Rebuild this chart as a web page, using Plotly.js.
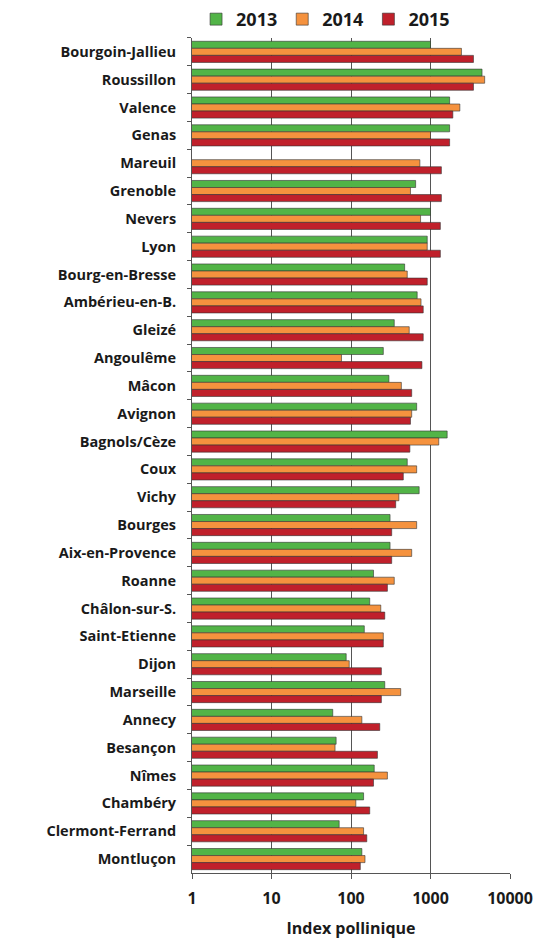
<!DOCTYPE html>
<html>
<head>
<meta charset="utf-8">
<script src="https://cdn.plot.ly/plotly-3.0.1.min.js"></script>
<style>html,body{margin:0;padding:0;background:#fff;}#chart{width:541px;height:940px;}</style>
</head>
<body>
<div id="chart"></div>
<script>
const cities = ["Bourgoin-Jallieu","Roussillon","Valence","Genas","Mareuil","Grenoble","Nevers","Lyon","Bourg-en-Bresse","Ambérieu-en-B.","Gleizé","Angoulême","Mâcon","Avignon","Bagnols/Cèze","Coux","Vichy","Bourges","Aix-en-Provence","Roanne","Châlon-sur-S.","Saint-Etienne","Dijon","Marseille","Annecy","Besançon","Nîmes","Chambéry","Clermont-Ferrand","Montluçon"];
const v2013 = [1000,4450,1740,1740,null,650,1000,910,473,680,350,255,300,670,1620,510,720,310,310,192,172,147,87,266,59,65,196,144,71,137];
const v2014 = [2450,4800,2340,1000,735,560,750,910,510,760,540,76,430,580,1270,670,400,670,580,350,237,255,95,422,137,63,287,115,144,150];
const v2015 = [3470,3470,1910,1740,1370,1370,1330,1330,910,810,810,780,580,560,550,455,365,325,325,287,266,255,241,241,230,215,192,172,158,131];
const years = ["2013","2014","2015"];
const colors = ["#52b447","#f5923e","#c0202b"];
const series = [v2013, v2014, v2015];

const traces = series.map((vals, i) => ({
  type: "bar",
  orientation: "h",
  name: years[i],
  y: cities,
  x: vals,
  marker: {color: colors[i], line: {color: "#333333", width: 0.6}},
  hoverinfo: "x+y"
}));

const layout = {
  width: 541, height: 940,
  margin: {l: 192, r: 31, t: 36, b: 67},
  paper_bgcolor: "#ffffff", plot_bgcolor: "#ffffff",
  barmode: "group", bargap: 0.24, bargroupgap: 0,
  font: {family: "Open Sans, Liberation Sans, sans-serif", color: "#1a1a1a"},
  showlegend: true,
  legend: {orientation: "h", xref: "paper", x: 0.42, xanchor: "center",
           yref: "container", y: 0.999, yanchor: "top",
           font: {size: 18, family: "Open Sans, sans-serif", weight: "bold", color: "#1a1a1a"},
           traceorder: "normal", itemwidth: 30},
  xaxis: {
    type: "log", range: [0, 4],
    tickvals: [1, 10, 100, 1000, 10000], ticktext: ["1","10","100","1000","10000"],
    tickfont: {size: 16, weight: "bold", color: "#1a1a1a"},
    showgrid: true, gridcolor: "#555555", gridwidth: 1,
    showline: true, linecolor: "#555555", linewidth: 1,
    ticks: "outside", ticklen: 5, tickcolor: "#555555",
    ticklabelstandoff: 6,
    zeroline: false,
    title: {text: "Index pollinique", font: {size: 16, weight: "bold", color: "#1a1a1a"}, standoff: 14}
  },
  yaxis: {
    type: "category", autorange: "reversed",
    tickfont: {size: 14.5, weight: "bold", color: "#1a1a1a"},
    showline: true, linecolor: "#555555", linewidth: 1,
    ticks: "outside", ticklen: 4, tickcolor: "#555555", tickson: "boundaries",
    ticklabelstandoff: 12,
    showgrid: false
  }
};

Plotly.newPlot("chart", traces, layout, {displayModeBar: false, staticPlot: true});
</script>
</body>
</html>
